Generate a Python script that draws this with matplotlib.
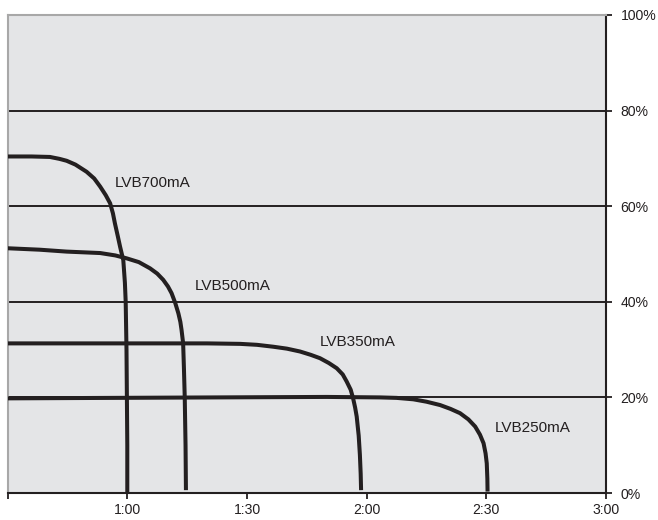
import matplotlib
matplotlib.use("Agg")
import matplotlib.pyplot as plt

# ---- data (minutes, % capacity) ----
t700 = [30, 36, 40.6, 43.0, 44.8, 47.0, 49.8, 51.7, 53.2, 54.6, 55.7, 56.4, 56.9,
        57.6, 58.2, 59.0, 59.4, 59.6, 59.8, 59.9, 60.0, 60.0]
p700 = [70.4, 70.4, 70.3, 69.9, 69.5, 68.7, 67.2, 65.8, 64.1, 62.3, 60.6, 58.5, 56.4,
        53.8, 51.5, 48.7, 44.0, 40.0, 30.0, 20.0, 10.0, 0.0]

t500 = [30, 38, 44.8, 53.2, 57.0, 59.8, 62.9, 65.7, 67.5, 69.0, 70.2, 71.1, 72.0,
        72.8, 73.3, 73.6, 74.0, 74.2, 74.4, 74.6, 74.7]
p500 = [51.2, 50.9, 50.5, 50.2, 49.7, 49.1, 48.3, 47.0, 45.9, 44.6, 43.2, 41.8, 39.8,
        37.6, 35.8, 34.1, 31.3, 26.0, 20.0, 10.0, 0.6]

t350 = [30, 60, 80, 88.3, 92.5, 96.6, 100.0, 103.3, 106.0, 108.3, 110.5, 112.5, 114.0,
        115.0, 116.0, 116.6, 117.1, 117.5, 118.0, 118.3, 118.5, 118.6]
p350 = [31.3, 31.3, 31.3, 31.2, 31.0, 30.6, 30.2, 29.6, 28.9, 28.2, 27.2, 26.1, 24.8,
        23.3, 21.6, 19.8, 17.9, 16.0, 12.0, 8.0, 4.0, 0.6]

t250 = [30, 82.5, 110, 123.3, 127.5, 131.7, 135.0, 138.4, 141.0, 143.4, 145.5, 147.2,
        148.4, 149.3, 149.8, 150.1, 150.25, 150.3]
p250 = [19.8, 20.0, 20.1, 20.0, 19.9, 19.6, 19.1, 18.4, 17.6, 16.7, 15.4, 13.9,
        12.2, 10.4, 8.3, 6.2, 3.0, 0.3]

series_names = ["LVB700mA", "LVB500mA", "LVB350mA", "LVB250mA"]
label_x = [56.9, 76.9, 108.2, 152.2]
label_y = [64.0, 42.5, 30.8, 12.8]

x_ticks = [30, 60, 90, 120, 150, 180]
x_tick_labels = ["", "1:00", "1:30", "2:00", "2:30", "3:00"]
y_ticks = [0, 20, 40, 60, 80, 100]
y_tick_labels = ["0%", "20%", "40%", "60%", "80%", "100%"]

FONT = ["Liberation Sans", "DejaVu Sans"]
plt.rcParams["font.family"] = FONT

fig = plt.figure(figsize=(6.58, 5.2), dpi=100)
ax = fig.add_axes([0.01155, 0.0519, 0.9095, 0.9193])
ax.set_facecolor("#e4e5e7")

ax.set_xlim(30, 180)
ax.set_ylim(0, 100)

for y in [20, 40, 60, 80]:
    ax.axhline(y, color="#231f20", lw=1.4, zorder=1)

curve_color = "#231f20"
for t, p in [(t700, p700), (t500, p500), (t350, p350), (t250, p250)]:
    ax.plot(t, p, color=curve_color, lw=2.9, solid_joinstyle="round",
            solid_capstyle="butt", zorder=3)

for name, lx, ly in zip(series_names, label_x, label_y):
    ax.text(lx, ly, name, fontsize=11, color="#231f20",
            ha="left", va="baseline", zorder=4)

ax.set_xticks(x_ticks)
ax.set_xticklabels(x_tick_labels)
ax.set_yticks(y_ticks)
ax.set_yticklabels(y_tick_labels)
ax.yaxis.tick_right()

ax.tick_params(axis="x", direction="out", length=4, width=1.3, color="#231f20",
               labelsize=10.1, labelcolor="#231f20", pad=3.5)
ax.tick_params(axis="y", direction="out", length=4, width=1.3, color="#231f20",
               labelsize=10.1, labelcolor="#231f20", pad=6.5)

for s in ["top", "left"]:
    ax.spines[s].set_color("#a8a8a8")
    ax.spines[s].set_linewidth(1.5)
for s in ["bottom", "right"]:
    ax.spines[s].set_color("#231f20")
    ax.spines[s].set_linewidth(1.5)

fig.savefig("out.png", dpi=100, facecolor="white")
